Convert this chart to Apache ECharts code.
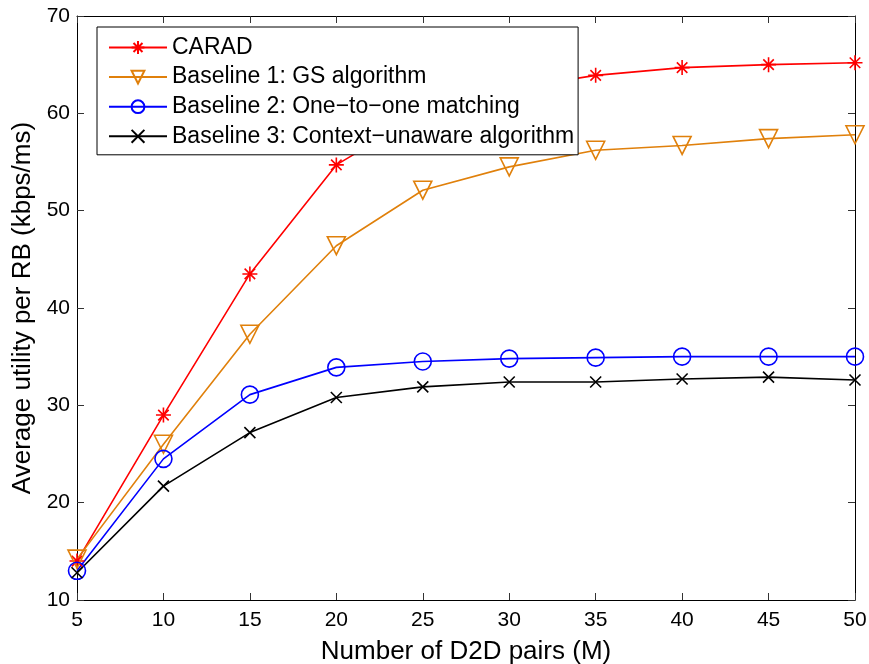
<!DOCTYPE html>
<html><head><meta charset="utf-8">
<script src="https://cdn.jsdelivr.net/npm/echarts@6/dist/echarts.min.js"></script>
<style>html,body{margin:0;padding:0;background:#fff}#c{width:869px;height:664px}</style>
</head><body><div id="c"></div>
<script>
const xValues = [5, 10, 15, 20, 25, 30, 35, 40, 45, 50];
const carad = [14.0, 29.0, 43.5, 54.7, 60.0, 62.5, 63.9, 64.7, 65.0, 65.2];
const baseline1 = [14.2, 26.0, 37.3, 46.4, 52.1, 54.5, 56.2, 56.7, 57.4, 57.8];
const baseline2 = [13.0, 24.5, 31.1, 33.9, 34.5, 34.8, 34.9, 35.0, 35.0, 35.0];
const baseline3 = [12.8, 21.7, 27.2, 30.8, 31.9, 32.4, 32.4, 32.7, 32.9, 32.6];
const seriesNames = ['CARAD', 'Baseline 1: GS algorithm', 'Baseline 2: One\u2212to\u2212one matching', 'Baseline 3: Context\u2212unaware algorithm'];

const FONT = '"Liberation Sans", Arial, sans-serif';
const asterisk = 'path://M0,-1L0,1M-1,0L1,0M-0.7,-0.7L0.7,0.7M-0.7,0.7L0.7,-0.7';
const cross = 'path://M-1,-1L1,1M-1,1L1,-1';

function mk(name, data, color, symbol, size, rotate) {
  return {
    name, type: 'line', data: xValues.map((x, i) => [x, data[i]]),
    symbol, symbolSize: size, symbolRotate: rotate || 0,
    lineStyle: { color, width: 1.6 },
    itemStyle: { color: 'rgba(0,0,0,0)', borderColor: color, borderWidth: 1.6 },
    emphasis: { disabled: true },
    z: 3
  };
}

const chart = echarts.init(document.getElementById('c'), null, { renderer: 'canvas' });
const axisCommon = {
  axisLine: { show: true, lineStyle: { color: '#000', width: 1 } },
  axisTick: { show: true, inside: true, length: 7, lineStyle: { color: '#333' } },
  splitLine: { show: false }
};
chart.setOption({
  animation: false,
  backgroundColor: '#fff',
  grid: { left: 77, right: 14, top: 16, bottom: 64, containLabel: false, outerBoundsMode: 'none' },
  xAxis: [
    Object.assign({ type: 'value', min: 5, max: 50, interval: 5, position: 'bottom',
      name: 'Number of D2D pairs (M)', nameLocation: 'middle', nameGap: 39,
      nameTextStyle: { fontFamily: FONT, fontSize: 26, color: '#000' },
      axisLabel: { fontFamily: FONT, fontSize: 21, color: '#000', margin: 10 } }, axisCommon),
    Object.assign({ type: 'value', min: 5, max: 50, interval: 5, position: 'top',
      axisLabel: { show: false } }, axisCommon)
  ],
  yAxis: [
    Object.assign({ type: 'value', min: 10, max: 70, interval: 10, position: 'left',
      name: 'Average utility per RB (kbps/ms)', nameLocation: 'middle', nameGap: 41,
      nameTextStyle: { fontFamily: FONT, fontSize: 26, color: '#000' },
      axisLabel: { fontFamily: FONT, fontSize: 21, color: '#000', margin: 7 } }, axisCommon),
    Object.assign({ type: 'value', min: 10, max: 70, interval: 10, position: 'right',
      axisLabel: { show: false } }, axisCommon)
  ],
  legend: {
    left: 97, top: 27, orient: 'vertical',
    data: seriesNames,
    itemWidth: 58, itemHeight: 16, itemGap: 6.6,
    padding: [9, 4, 7, 11],
    borderColor: '#000', borderWidth: 1, backgroundColor: '#fff',
    textStyle: { fontFamily: FONT, fontSize: 23, color: '#000' },
    z: 10
  },
  series: [
    mk(seriesNames[0], carad, '#ff0000', asterisk, 15),
    mk(seriesNames[1], baseline1, '#e0800b', 'triangle', 18, 180),
    mk(seriesNames[2], baseline2, '#0000ff', 'circle', 17),
    mk(seriesNames[3], baseline3, '#000000', cross, 11)
  ]
});
</script></body></html>
